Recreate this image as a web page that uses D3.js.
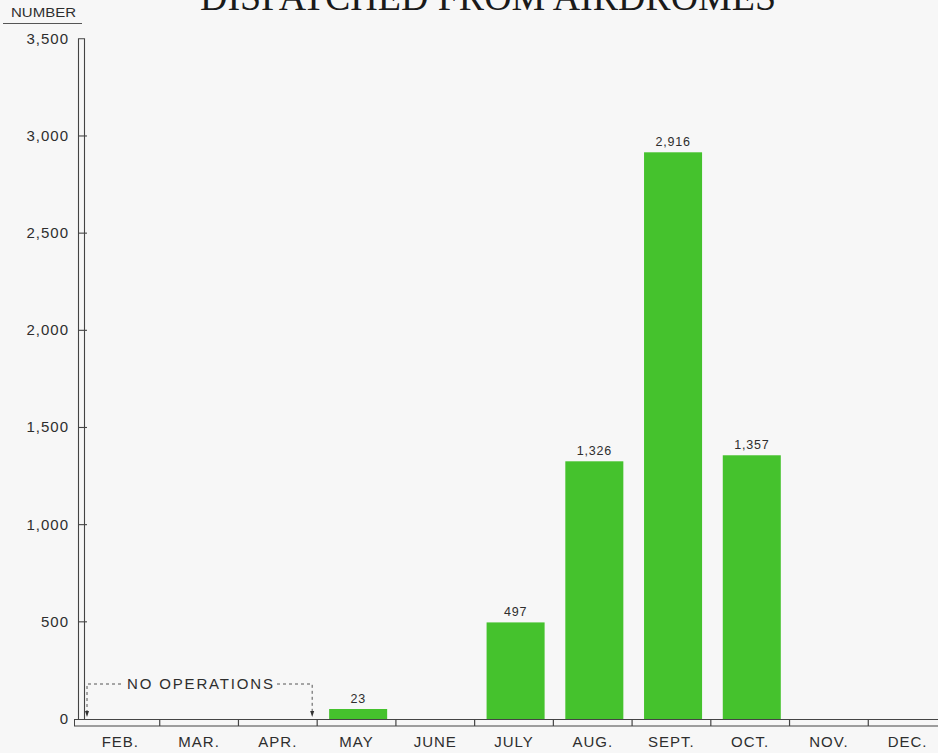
<!DOCTYPE html>
<html>
<head>
<meta charset="utf-8">
<script src="https://cdn.jsdelivr.net/npm/d3@7"></script>
<style>
  html, body { margin: 0; padding: 0; background: #f7f7f7; }
  svg { display: block; }
</style>
</head>
<body>
<svg id="chart" width="938" height="753"></svg>
<script>
// ---- data ----
const titleText = "DISPATCHED FROM AIRDROMES";
const yAxisTitle = "NUMBER";
const months = ["FEB.", "MAR.", "APR.", "MAY", "JUNE", "JULY", "AUG.", "SEPT.", "OCT.", "NOV.", "DEC."];
const barMonths = ["MAY", "JULY", "AUG.", "SEPT.", "OCT."];
const barValues = [23, 497, 1326, 2916, 1357];
const yTicks = [0, 500, 1000, 1500, 2000, 2500, 3000, 3500];
const noOpsLabel = "NO OPERATIONS";
const noOpsMonths = ["FEB.", "APR."];

// ---- layout ----
const W = 938, H = 753;
const axisX = 81, axisRight = 947;
const y0 = 719, yTop = 38.8;
const green = "#45c22d";
const ink = "#2e2e2e";

const svg = d3.select("#chart");
svg.append("rect").attr("width", W).attr("height", H).attr("fill", "#f7f7f7");

const xSlot = d3.scaleBand().domain(months).range([axisX, axisRight]).padding(0);
const xBar = d3.scaleBand().domain(months).range([axisX + 1.6, axisRight + 1.6])
  .paddingInner(0.263).paddingOuter(0.1315);
const y = d3.scaleLinear().domain([0, 3500]).range([y0, yTop]);

// title (cut by top edge, as in the reference)
svg.append("text")
  .attr("x", 200).attr("y", 10)
  .attr("textLength", 576).attr("lengthAdjust", "spacingAndGlyphs")
  .attr("font-family", "Liberation Serif, serif")
  .attr("font-size", 40)
  .attr("fill", "#1a1a1a")
  .text(titleText);

// NUMBER label with underline
svg.append("text")
  .attr("x", 11).attr("y", 17)
  .attr("textLength", 65).attr("lengthAdjust", "spacingAndGlyphs")
  .attr("font-family", "Liberation Sans, sans-serif")
  .attr("font-size", 12.5)
  .attr("fill", ink)
  .text(yAxisTitle);
svg.append("line")
  .attr("x1", 3).attr("x2", 82).attr("y1", 23.5).attr("y2", 23.5)
  .attr("stroke", "#555").attr("stroke-width", 1.2);

// y axis: double-line column
const yAx = svg.append("g");
yAx.append("path")
  .attr("d", `M78.5,${y0} V${yTop} H84.5 V${y0}`)
  .attr("fill", "none").attr("stroke", "#444").attr("stroke-width", 1.1);

// y ticks and labels
const tickG = yAx.selectAll("g.tick").data(yTicks).enter().append("g").attr("class", "tick");
tickG.filter(d => d > 0 && d < 3500).append("line")
  .attr("x1", 78.5).attr("x2", 87).attr("y1", d => y(d)).attr("y2", d => y(d))
  .attr("stroke", "#444").attr("stroke-width", 1.1);
tickG.append("text")
  .attr("x", 69).attr("y", d => y(d) + 5)
  .attr("text-anchor", "end")
  .attr("font-family", "Liberation Sans, sans-serif")
  .attr("font-size", 15)
  .attr("letter-spacing", 1)
  .attr("fill", ink)
  .text(d => d3.format(",")(d));

// x axis: double line band
const xAx = svg.append("g");
xAx.append("line").attr("x1", 74).attr("x2", W).attr("y1", y0 + 0.5).attr("y2", y0 + 0.5)
  .attr("stroke", "#444").attr("stroke-width", 1.2);
xAx.append("line").attr("x1", 74).attr("x2", W).attr("y1", y0 + 7).attr("y2", y0 + 7)
  .attr("stroke", "#444").attr("stroke-width", 1.2);
xAx.append("line").attr("x1", 74.5).attr("x2", 74.5).attr("y1", y0 + 0.5).attr("y2", y0 + 7)
  .attr("stroke", "#444").attr("stroke-width", 1);
xAx.selectAll("line.mt").data(months.slice(1)).enter().append("line")
  .attr("class", "mt")
  .attr("x1", d => xSlot(d)).attr("x2", d => xSlot(d))
  .attr("y1", y0 + 0.5).attr("y2", y0 + 7)
  .attr("stroke", "#444").attr("stroke-width", 1.2);
xAx.selectAll("text.ml").data(months).enter().append("text")
  .attr("class", "ml")
  .attr("x", d => xSlot(d) + xSlot.bandwidth() / 2)
  .attr("y", 747)
  .attr("text-anchor", "middle")
  .attr("font-family", "Liberation Sans, sans-serif")
  .attr("font-size", 15)
  .attr("letter-spacing", 1)
  .attr("fill", ink)
  .text(d => d);

// bars
const bars = barMonths.map((m, i) => ({ m, v: barValues[i] }));
const minH = 10;
svg.selectAll("rect.bar").data(bars).enter().append("rect")
  .attr("class", "bar")
  .attr("x", d => xBar(d.m))
  .attr("width", xBar.bandwidth())
  .attr("y", d => Math.min(y(d.v), y0 - minH))
  .attr("height", d => Math.max(y0 - y(d.v), minH))
  .attr("fill", green);

// value labels
svg.selectAll("text.val").data(bars).enter().append("text")
  .attr("class", "val")
  .attr("x", d => xBar(d.m) + xBar.bandwidth() / 2)
  .attr("y", d => Math.min(y(d.v), y0 - minH) - 6)
  .attr("text-anchor", "middle")
  .attr("font-family", "Liberation Sans, sans-serif")
  .attr("font-size", 12.5)
  .attr("letter-spacing", 0.8)
  .attr("fill", ink)
  .text(d => d3.format(",")(d.v));

// NO OPERATIONS annotation
const ax1 = 87, ax2 = xSlot(noOpsMonths[1]) + xSlot.bandwidth() - 5;
const ay = 684;
const ann = svg.append("g").attr("stroke", "#555").attr("stroke-width", 1).attr("fill", "none")
  .attr("stroke-dasharray", "3,3");
ann.append("path").attr("d", `M${ax1},${y0 - 6} V${ay} H123`);
ann.append("path").attr("d", `M277,${ay} H${ax2} V${y0 - 6}`);
svg.append("path").attr("d", `M${ax1 - 2},${y0 - 8} L${ax1 + 2},${y0 - 8} L${ax1},${y0 - 2} Z`).attr("fill", "#333");
svg.append("path").attr("d", `M${ax2 - 2},${y0 - 8} L${ax2 + 2},${y0 - 8} L${ax2},${y0 - 2} Z`).attr("fill", "#333");
svg.append("text")
  .attr("x", 200).attr("y", ay + 5)
  .attr("text-anchor", "middle")
  .attr("textLength", 146).attr("lengthAdjust", "spacing")
  .attr("font-family", "Liberation Sans, sans-serif")
  .attr("font-size", 15)
  .attr("fill", ink)
  .text(noOpsLabel);
</script>
</body>
</html>
